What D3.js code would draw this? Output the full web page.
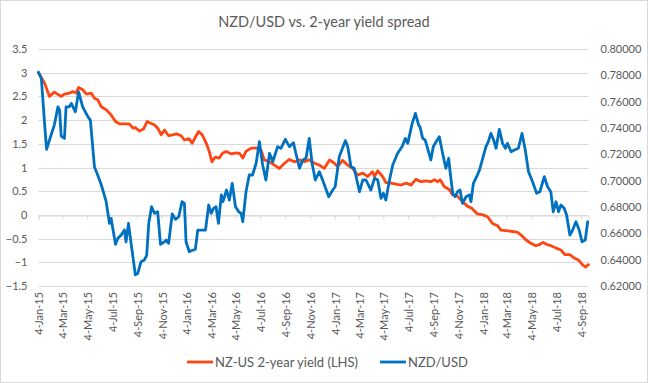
<!DOCTYPE html>
<html>
<head>
<meta charset="utf-8">
<script src="https://cdn.jsdelivr.net/npm/d3@7"></script>
<style>
  html, body { margin: 0; padding: 0; background: #fff; }
  svg { display: block; }
  text { font-family: Lato, "Open Sans", sans-serif; fill: #595959; }
</style>
</head>
<body>
<svg id="chart" width="648" height="383"></svg>
<script>
// ---------- DATA ----------
const startDate = "2015-01-04";
const endDay = 1357; // last observation, days since startDate
const titleText = "NZD/USD vs. 2-year yield spread";
const seriesNames = ["NZ-US 2-year yield (LHS)", "NZD/USD"];
const leftTicks = [-1.5, -1, -0.5, 0, 0.5, 1, 1.5, 2, 2.5, 3, 3.5];
const rightTicks = [0.62, 0.64, 0.66, 0.68, 0.70, 0.72, 0.74, 0.76, 0.78, 0.80];
const xTickLabels = ["4-Jan-15","4-Mar-15","4-May-15","4-Jul-15","4-Sep-15","4-Nov-15",
  "4-Jan-16","4-Mar-16","4-May-16","4-Jul-16","4-Sep-16","4-Nov-16",
  "4-Jan-17","4-Mar-17","4-May-17","4-Jul-17","4-Sep-17","4-Nov-17",
  "4-Jan-18","4-Mar-18","4-May-18","4-Jul-18","4-Sep-18"];

// NZ-US 2-year yield spread: [days since start, value]
const yieldSpread = [
  [0,3.0],[15,2.78],[27,2.50],[39,2.59],[56,2.50],[64,2.55],[76,2.57],[85,2.60],[93,2.57],[99,2.69],
  [109,2.64],[118,2.55],[130,2.57],[138,2.46],[146,2.43],[155,2.28],[167,2.22],[179,2.11],[190,1.97],[200,1.92],
  [224,1.92],[233,1.83],[239,1.84],[249,1.77],[259,1.81],[268,1.97],[278,1.93],[286,1.90],[294,1.83],[303,1.69],
  [311,1.79],[321,1.67],[331,1.69],[340,1.71],[352,1.67],[360,1.58],[371,1.61],[379,1.51],[389,1.67],[395,1.76],
  [404,1.69],[414,1.51],[420,1.37],[428,1.12],[436,1.22],[446,1.20],[454,1.30],[463,1.34],[475,1.29],[488,1.31],
  [496,1.30],[504,1.20],[512,1.34],[525,1.41],[537,1.41],[549,1.37],[557,1.16],[570,1.12],[582,1.05],[594,0.98],
  [607,1.09],[619,1.17],[631,1.12],[644,1.16],[656,1.12],[668,1.16],[681,1.09],[693,1.05],[705,0.98],[718,1.16],
  [730,1.09],[738,1.02],[750,1.15],[763,1.05],[775,0.98],[787,0.84],[800,0.88],[812,0.81],[824,0.91],[829,0.81],
  [837,0.93],[849,0.81],[857,0.68],[870,0.67],[882,0.65],[894,0.63],[907,0.67],[919,0.63],[931,0.75],[944,0.70],
  [956,0.72],[968,0.70],[977,0.74],[985,0.70],[991,0.74],[1001,0.60],[1014,0.53],[1022,0.42],[1034,0.39],[1046,0.28],
  [1059,0.18],[1069,0.14],[1083,0.02],[1097,0.0],[1108,-0.04],[1120,-0.18],[1133,-0.23],[1141,-0.32],[1153,-0.33],[1170,-0.35],
  [1182,-0.37],[1190,-0.42],[1203,-0.53],[1215,-0.60],[1227,-0.65],[1235,-0.63],[1245,-0.58],[1256,-0.63],[1264,-0.65],[1277,-0.70],
  [1289,-0.74],[1299,-0.84],[1311,-0.84],[1322,-0.91],[1332,-0.95],[1342,-1.05],[1349,-1.10],[1357,-1.05]
];

// NZD/USD exchange rate: [days since start, value]
const nzdusd = [
  [0,0.7823],[7,0.7777],[15,0.7435],[20,0.7238],[31,0.7347],[39,0.7422],[48,0.7561],[52,0.7536],[56,0.7339],[64,0.7321],
  [68,0.7561],[76,0.7561],[81,0.7587],[85,0.7561],[91,0.7523],[99,0.7675],[109,0.7561],[122,0.7485],[128,0.7460],[138,0.7106],
  [146,0.7043],[155,0.6967],[167,0.6840],[175,0.6676],[179,0.6714],[190,0.6517],[196,0.6562],[204,0.6587],[212,0.6625],[216,0.6536],
  [222,0.6676],[229,0.6511],[239,0.6284],[245,0.6296],[253,0.6385],[261,0.6397],[267,0.6435],[272,0.6676],[279,0.6802],[286,0.6752],
  [294,0.6764],[301,0.6517],[311,0.6536],[315,0.6549],[321,0.6524],[330,0.6747],[338,0.6706],[346,0.6726],[354,0.6840],[360,0.6828],
  [364,0.6536],[372,0.6460],[381,0.6473],[387,0.6479],[393,0.6625],[404,0.6625],[412,0.6625],[420,0.6815],[426,0.6752],[432,0.6790],
  [438,0.6802],[444,0.6676],[451,0.6891],[455,0.6840],[464,0.6929],[471,0.6853],[478,0.6980],[486,0.6802],[494,0.6764],[500,0.6752],
  [504,0.6688],[512,0.6916],[520,0.7043],[528,0.7043],[537,0.7132],[545,0.7296],[553,0.7119],[561,0.7005],[570,0.7208],[578,0.7144],
  [590,0.7258],[598,0.7246],[609,0.7314],[619,0.7258],[629,0.7288],[635,0.7208],[644,0.7094],[652,0.7157],[660,0.7170],[668,0.7321],
  [675,0.7132],[683,0.7005],[693,0.7068],[701,0.7005],[716,0.6878],[726,0.6929],[732,0.6954],[742,0.7182],[757,0.7304],[763,0.7258],
  [771,0.7106],[779,0.7094],[792,0.6916],[800,0.7005],[808,0.7005],[820,0.6929],[829,0.7018],[837,0.7005],[845,0.6866],[851,0.6904],
  [857,0.6853],[866,0.7005],[874,0.7119],[886,0.7208],[897,0.7258],[905,0.7321],[911,0.7283],[922,0.7435],[930,0.7511],[938,0.7422],
  [941,0.7410],[948,0.7321],[954,0.7309],[960,0.7246],[968,0.7157],[974,0.7258],[981,0.7296],[989,0.7334],[997,0.7208],[1005,0.7094],
  [1012,0.7170],[1015,0.7081],[1022,0.6904],[1028,0.6878],[1034,0.6916],[1040,0.6929],[1046,0.6828],[1055,0.6878],[1063,0.6891],[1067,0.6840],
  [1073,0.6980],[1081,0.7030],[1088,0.7081],[1096,0.7170],[1104,0.7258],[1110,0.7296],[1116,0.7359],[1123,0.7309],[1129,0.7246],[1137,0.7390],
  [1145,0.7283],[1152,0.7246],[1157,0.7283],[1166,0.7220],[1174,0.7233],[1184,0.7246],[1193,0.7359],[1201,0.7233],[1209,0.7068],[1219,0.6992],
  [1229,0.6904],[1237,0.6916],[1248,0.7030],[1256,0.6954],[1264,0.6916],[1270,0.6764],[1277,0.6840],[1283,0.6764],[1289,0.6815],[1297,0.6790],
  [1303,0.6739],[1311,0.6587],[1318,0.6625],[1326,0.6688],[1334,0.6625],[1341,0.6536],[1349,0.6549],[1355,0.6688]
];

// ---------- CHART ----------
const W = 648, H = 383;
const plot = { left: 38.5, right: 588.5, top: 49, bottom: 286 };
const colors = ["#FF4612", "#0070C0"];

const svg = d3.select("#chart");
const parse = d3.timeParse("%Y-%m-%d");
const t0 = parse(startDate);
const toDate = d => d3.timeDay.offset(t0, d);

const x = d3.scaleTime().domain([t0, toDate(endDay)]).range([plot.left, plot.right]);
const yL = d3.scaleLinear().domain([-1.5, 3.5]).range([plot.bottom, plot.top]);
const yR = d3.scaleLinear().domain([0.62, 0.80]).range([plot.bottom, plot.top]);

// outer border
svg.append("rect").attr("x", 0.5).attr("y", 0.5).attr("width", W - 1).attr("height", H - 1)
  .attr("fill", "#fff").attr("stroke", "#d9d9d9");

// title
svg.append("text").attr("x", W / 2).attr("y", 27).attr("text-anchor", "middle")
  .style("font-size", "14.5px").text(titleText);

// gridlines
svg.append("g").selectAll("line").data(leftTicks).join("line")
  .attr("x1", plot.left).attr("x2", plot.right)
  .attr("y1", d => Math.round(yL(d)) + 0.5).attr("y2", d => Math.round(yL(d)) + 0.5)
  .attr("stroke", "#d9d9d9").attr("stroke-width", 1);

// left axis labels
const gL = svg.append("g").attr("transform", `translate(${plot.left},0)`)
  .call(d3.axisLeft(yL).tickValues(leftTicks).tickSize(0).tickPadding(11).tickFormat(d3.format("")));
gL.select(".domain").remove();
gL.selectAll("text").style("font-size", "11px").style("font-family", "Lato, sans-serif").attr("fill", "#595959");

// right axis labels
const gR = svg.append("g").attr("transform", `translate(${plot.right},0)`)
  .call(d3.axisRight(yR).tickValues(rightTicks).tickSize(0).tickPadding(12).tickFormat(d3.format(".5f")));
gR.select(".domain").remove();
gR.selectAll("text").style("font-size", "11px").style("font-family", "Lato, sans-serif").attr("fill", "#595959");

// x axis on the zero line
const xTickDates = xTickLabels.map(s => d3.timeParse("%d-%b-%y")(s));
const zeroY = Math.round(yL(0)) + 0.5;
const gX = svg.append("g").attr("transform", `translate(0,${zeroY})`)
  .call(d3.axisBottom(x).tickValues(xTickDates).tickSize(4).tickFormat(""));
gX.select(".domain").attr("stroke", "#d9d9d9");
gX.selectAll(".tick line").attr("stroke", "#d9d9d9");

// x tick labels (rotated) at the bottom
svg.append("g").selectAll("text").data(xTickDates).join("text")
  .attr("transform", d => `translate(${x(d) + 1},292) rotate(-90)`)
  .attr("text-anchor", "end").attr("dy", "0.35em")
  .style("font-size", "11px")
  .text((d, i) => xTickLabels[i]);

// lines
const lineL = d3.line().x(d => x(toDate(d[0]))).y(d => yL(d[1])).curve(d3.curveLinear);
const lineR = d3.line().x(d => x(toDate(d[0]))).y(d => yR(d[1])).curve(d3.curveLinear);

svg.append("path").datum(yieldSpread).attr("d", lineL)
  .attr("fill", "none").attr("stroke", colors[0]).attr("stroke-width", 2.8)
  .attr("stroke-linejoin", "round").attr("stroke-linecap", "round");
svg.append("path").datum(nzdusd).attr("d", lineR)
  .attr("fill", "none").attr("stroke", colors[1]).attr("stroke-width", 2.8)
  .attr("stroke-linejoin", "round").attr("stroke-linecap", "round");

// legend
const legendItems = [
  { name: seriesNames[0], color: colors[0], x: 187 },
  { name: seriesNames[1], color: colors[1], x: 380 }
];
const lg = svg.append("g").selectAll("g").data(legendItems).join("g")
  .attr("transform", d => `translate(${d.x},362)`);
lg.append("line").attr("x1", 0).attr("x2", 26).attr("y1", 0).attr("y2", 0)
  .attr("stroke", d => d.color).attr("stroke-width", 2.8);
lg.append("text").attr("x", 28).attr("dy", "0.35em").style("font-size", "13px").text(d => d.name);
</script>
</body>
</html>
